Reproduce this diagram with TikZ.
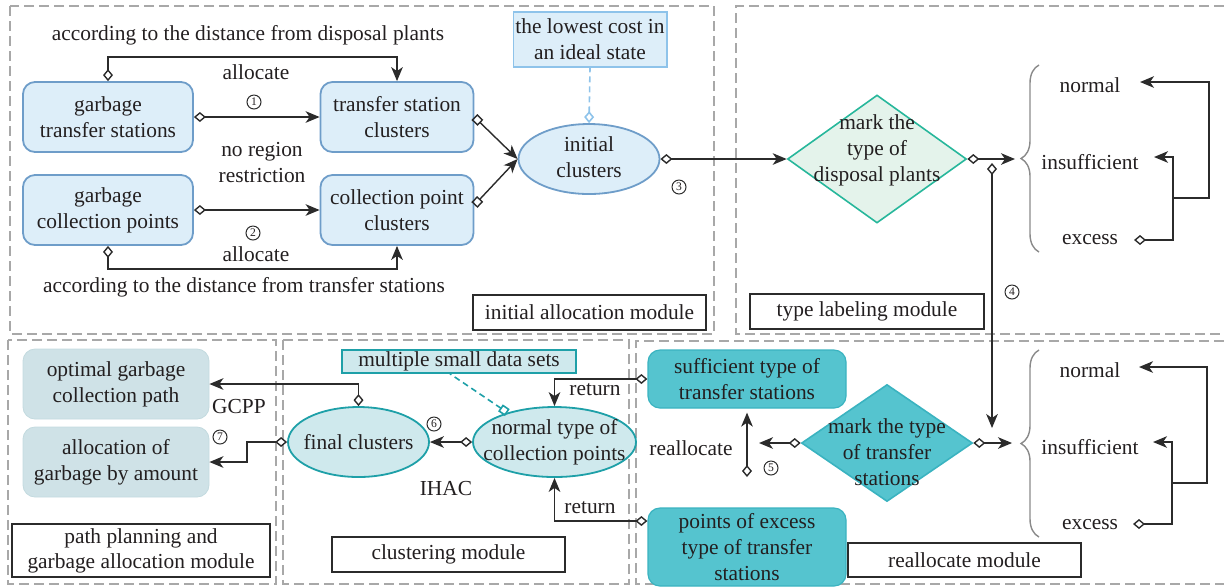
\documentclass[tikz,border=0pt]{standalone}
\usepackage{fontspec}
\setmainfont{Liberation Serif}
\usetikzlibrary{arrows.meta,shapes.geometric,decorations.pathreplacing}
\definecolor{txt}{HTML}{231F20}
\definecolor{lc}{HTML}{2B2B2B}
\definecolor{modgray}{HTML}{A8A8A8}
\definecolor{bfill}{HTML}{DDEEF9}
\definecolor{bdraw}{HTML}{6E9DC9}
\definecolor{ldraw}{HTML}{8EC3EA}
\definecolor{gfill}{HTML}{E4F3EB}
\definecolor{gdraw}{HTML}{27B79B}
\definecolor{tfill}{HTML}{55C4CF}
\definecolor{tdraw}{HTML}{3AB3C0}
\definecolor{cfill}{HTML}{CFE9ED}
\definecolor{cdraw}{HTML}{1EA0A8}
\definecolor{pfill}{HTML}{CFE2E7}
\definecolor{pdraw}{HTML}{C3DADF}
\definecolor{brgray}{HTML}{8A8A8A}
\begin{document}
\begin{tikzpicture}[x=0.5pt,y=-0.5pt,
  font=\fontsize{10.7}{13}\selectfont, text=txt,
  mod/.style={draw=modgray, line width=0.8pt, dash pattern=on 5pt off 2.5pt},
  bbox/.style={rectangle, rounded corners=6pt, draw=bdraw, fill=bfill, line width=0.9pt, align=center, inner sep=1pt, minimum height=35pt},
  lbox/.style={rectangle, draw=ldraw, fill=bfill, line width=0.9pt, align=center, inner sep=1pt},
  tbox/.style={rectangle, rounded corners=6pt, draw=tdraw, fill=tfill, line width=0.6pt, align=center, inner sep=1pt, minimum width=99pt},
  pbox/.style={rectangle, rounded corners=6pt, draw=pdraw, fill=pfill, line width=0.4pt, align=center, inner sep=1pt, minimum width=93pt, minimum height=35pt},
  cbox/.style={rectangle, draw=cdraw, fill=cfill, line width=0.8pt, align=center, inner sep=0pt},
  ellnode/.style={ellipse, line width=0.9pt, inner sep=0pt},
  dianode/.style={diamond, line width=0.8pt, inner sep=0pt},
  modl/.style={rectangle, draw=lc, line width=1pt, fill=white, align=center, inner sep=1pt},
  num/.style={circle, draw=lc, line width=0.5pt, inner sep=0pt, minimum size=7pt, font=\fontsize{5.8}{5.8}\selectfont},
  cn/.style={draw=lc, line width=0.7pt},
  da/.style={{Diamond[open,length=6pt,width=5pt]}-{Stealth[length=7pt,width=5.8pt,inset=2pt]}},
  sa/.style={{Square[open,length=4.2pt,width=4.2pt]}-{Stealth[length=7pt,width=5.8pt,inset=2pt]}},
  ar/.style={-{Stealth[length=7pt,width=5.8pt,inset=2pt]}},
  dt/.style={{Diamond[open,length=6pt,width=5pt]}-},
  brc/.style={draw=brgray, line width=0.7pt, decorate, decoration={brace, amplitude=9pt}}
]
\useasboundingbox (0,0) rectangle (1224,586);

% ---------- module frames ----------
\draw[mod] (10,6) rectangle (714,334);
\draw[mod] (1224,6) -- (736,6) -- (736,334) -- (1224,334);
\draw[mod] (8,340) rectangle (276,584);
\draw[mod] (283,340) rectangle (629,584);
\draw[mod] (1224,341) -- (636,341) -- (636,584) -- (1224,584);

% ---------- initial allocation module ----------
\node[bbox, minimum width=85pt] (gts) at (108,117) {garbage\\transfer stations};
\node[bbox, minimum width=76.5pt] (tsc) at (397,117) {transfer station\\clusters};
\node[bbox, minimum width=85pt] (gcp) at (108,210) {garbage\\collection points};
\node[bbox, minimum width=76.5pt] (cpc) at (397,210) {collection point\\clusters};
\node[ellnode, fill=bfill, draw=bdraw, minimum width=70.5pt, minimum height=35pt] (ic) at (589,159) {};
\node[align=center] (ict) at (589,157) {initial\\clusters};
\node[lbox, minimum width=76.5pt, minimum height=27.5pt] (lcost) at (590,39.5) {the lowest cost in\\an ideal state};

\node (t1) at (248,35) {according to the distance from disposal plants};
\node (al1) at (256,72) {allocate};
\node[num] (n1) at (254,102) {1};
\node[align=center] (nrr) at (262,163) {no region\\restriction};
\node[num] (n2) at (253,233) {2};
\node (al2) at (256,254) {allocate};
\node (t2) at (244,287) {according to the distance from transfer stations};
\node[num] (n3) at (679,187) {3};
\node[modl, minimum width=116.5pt, minimum height=17.5pt] (m1) at (589.5,312.5) {initial allocation module};

\draw[cn, da] (gts.north) -- ++(0,-24) -| (tsc.north);
\draw[cn, da] (gts.east) -- (tsc.west);
\draw[cn, da] (gcp.east) -- (cpc.west);
\draw[cn, da] (gcp.south) -- ++(0,23) -| (cpc.south);
\draw[cn, sa] (tsc.east) -- (ic.west);
\draw[cn, sa] ([yshift=2.5pt]cpc.east) -- (ic.west);
\draw[draw=ldraw, line width=0.8pt, dash pattern=on 3pt off 2pt, dt] (ic.north) -- (lcost.south);

% ---------- type labeling module ----------
\node[dianode, fill=gfill, draw=gdraw, minimum width=89.5pt, minimum height=64pt] (d1) at (877,159) {};
\node[align=center] (d1t) at (877,150) {mark the\\type of\\disposal plants};
\draw[cn, da] (ic.east) -- (d1.west);
\coordinate (b1) at (1015,159);
\draw[cn, da] (d1.east) -- (b1);
\draw[brc] (1039,252) -- (1039,65);
\node (nm1) at (1090,85) {normal};
\node (in1) at (1090,162) {insufficient};
\node (ex1) at (1090,240) {excess};
\coordinate (ex1d) at (1134,240);
\coordinate (in1a) at (1154,157);
\coordinate (nm1a) at (1140,82);
\draw[cn, da] (ex1d) -- ++(39,0) |- (in1a);
\draw[cn, ar] (1173,198) -- ++(36,0) |- (nm1a);
\node[modl, minimum width=117pt, minimum height=17.5pt] (m2) at (867,311.5) {type labeling module};

% ---------- step 4 ----------
\coordinate (c4a) at (992,163);
\coordinate (c4b) at (992,428);
\draw[cn, da] (c4a) -- (c4b);
\node[num] (n4) at (1012,292) {4};

% ---------- reallocate module ----------
\node[tbox, minimum height=29pt] (sts) at (747,379) {sufficient type of\\transfer stations};
\node[tbox, minimum height=39pt] (pex) at (747,547) {points of excess\\type of transfer\\stations};
\node[dianode, fill=tfill, draw=tdraw, minimum width=85.5pt, minimum height=58.5pt] (d2) at (887,443) {};
\node[align=center] (d2t) at (887,452) {mark the type\\of transfer\\stations};
\node (rea) at (691,448) {reallocate};
\coordinate (c5a) at (759,443);
\coordinate (c5b) at (747,477);
\draw[cn, da] (d2.west) -- (c5a);
\draw[cn, da] (c5b) -- ([yshift=-2pt]sts.south);
\node[num] (n5) at (771,468) {5};
\coordinate (b2) at (1012,443);
\draw[cn, da] (d2.east) -- (b2);
\draw[brc] (1039,537) -- (1039,350);
\node (nm2) at (1090,370) {normal};
\node (in2) at (1090,447) {insufficient};
\node (ex2) at (1090,525) {excess};
\coordinate (ex2d) at (1133,524);
\coordinate (in2a) at (1153,442);
\coordinate (nm2a) at (1139,367);
\draw[cn, da] (ex2d) -- ++(39,0) |- (in2a);
\draw[cn, ar] (1172,483) -- ++(35,0) |- (nm2a);
\node[modl, minimum width=116.5pt, minimum height=17pt] (m3) at (964.5,560) {reallocate module};

% ---------- clustering module ----------
\node[ellnode, fill=cfill, draw=cdraw, minimum width=81.5pt, minimum height=35pt] (nt) at (554.5,442) {};
\node[align=center] (ntt) at (nt) {normal type of\\collection points};
\node[ellnode, fill=cfill, draw=cdraw, minimum width=70.5pt, minimum height=35pt] (fc) at (358.5,442) {};
\node (fct) at (fc) {final clusters};
\node[cbox, minimum width=117pt, minimum height=11.5pt] (msd) at (459,361.5) {multiple small data sets};
\draw[draw=cdraw, line width=0.8pt, dash pattern=on 3pt off 2pt, {Square[open,length=4.2pt,width=4.2pt]}-] (nt.148) -- ([xshift=-4.5pt]msd.south);
\draw[cn, da] (nt.west) -- (fc.east);
\node[num] (n6) at (434,424) {6};
\node (ihac) at (446,488) {IHAC};
\draw[cn, da] (sts.west) -| (nt.north);
\node (ret1) at (595,390) {return};
\draw[cn, da] ([yshift=13pt]pex.west) -| (nt.south);
\node (ret2) at (590,508) {return};
\node[modl, minimum width=116.5pt, minimum height=17.5pt] (m4) at (448.5,554.5) {clustering module};

% ---------- path planning module ----------
\node[pbox] (ogp) at (116,384) {optimal garbage\\collection path};
\node[pbox] (agb) at (116,462) {allocation of\\garbage by amount};
\draw[cn, da] (fc.north) |- (ogp.east);
\draw[cn, da] (fc.west) -- ++(-40,0) |- (agb.east);
\node (gcpp) at (239,407) {GCPP};
\node[num] (n7) at (220,437) {7};
\node[modl, minimum width=129pt, minimum height=26.5pt, font=\fontsize{10.7}{12.5}\selectfont] (m5) at (141,550.5) {path planning and\\garbage allocation module};
\end{tikzpicture}
\end{document}
